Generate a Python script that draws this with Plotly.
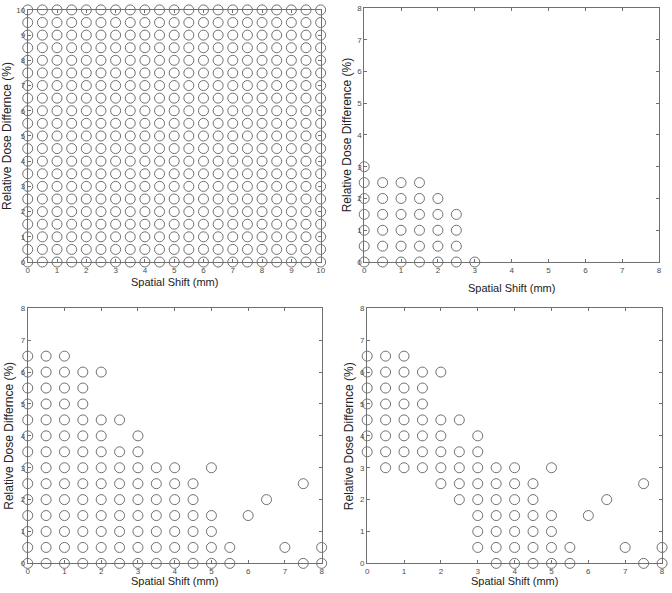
import plotly.graph_objects as go

W, H = 672, 593

# ---- data ----
grid_vals = [i * 0.5 for i in range(21)]  # 0..10 step 0.5
p1_x = [x for y in grid_vals for x in grid_vals]
p1_y = [y for y in grid_vals for x in grid_vals]

# panel 2 rows: dose -> list of shifts
p2_rows = {
    0.0: [0, 0.5, 1, 1.5, 2, 2.5, 3],
    0.5: [0, 0.5, 1, 1.5, 2, 2.5],
    1.0: [0, 0.5, 1, 1.5, 2, 2.5],
    1.5: [0, 0.5, 1, 1.5, 2, 2.5],
    2.0: [0, 0.5, 1, 1.5, 2],
    2.5: [0, 0.5, 1, 1.5],
    3.0: [0],
}
p3_rows = {
    6.5: [0, 0.5, 1],
    6.0: [0, 0.5, 1, 1.5, 2],
    5.5: [0, 0.5, 1, 1.5],
    5.0: [0, 0.5, 1, 1.5],
    4.5: [0, 0.5, 1, 1.5, 2, 2.5],
    4.0: [0, 0.5, 1, 1.5, 2, 3],
    3.5: [0, 0.5, 1, 1.5, 2, 2.5, 3],
    3.0: [0, 0.5, 1, 1.5, 2, 2.5, 3, 3.5, 4, 5],
    2.5: [0, 0.5, 1, 1.5, 2, 2.5, 3, 3.5, 4, 4.5, 7.5],
    2.0: [0, 0.5, 1, 1.5, 2, 2.5, 3, 3.5, 4, 4.5, 6.5],
    1.5: [0, 0.5, 1, 1.5, 2, 2.5, 3, 3.5, 4, 4.5, 5, 6],
    1.0: [0, 0.5, 1, 1.5, 2, 2.5, 3, 3.5, 4, 4.5, 5],
    0.5: [0, 0.5, 1, 1.5, 2, 2.5, 3, 3.5, 4, 4.5, 5, 5.5, 7, 8],
    0.0: [0, 0.5, 1, 1.5, 2, 2.5, 3, 3.5, 4, 4.5, 5, 5.5, 7.5, 8],
}
p4_rows = {
    6.5: [0, 0.5, 1],
    6.0: [0, 0.5, 1, 1.5, 2],
    5.5: [0, 0.5, 1, 1.5],
    5.0: [0, 0.5, 1, 1.5],
    4.5: [0, 0.5, 1, 1.5, 2, 2.5],
    4.0: [0, 0.5, 1, 1.5, 2, 3],
    3.5: [0, 0.5, 1, 1.5, 2, 2.5, 3],
    3.0: [0.5, 1, 1.5, 2, 2.5, 3, 3.5, 4, 5],
    2.5: [2, 2.5, 3, 3.5, 4, 4.5, 7.5],
    2.0: [2.5, 3, 3.5, 4, 4.5, 6.5],
    1.5: [3, 3.5, 4, 4.5, 5, 6],
    1.0: [3, 3.5, 4, 4.5, 5],
    0.5: [3, 3.5, 4, 4.5, 5, 5.5, 7, 8],
    0.0: [3.5, 4, 4.5, 5, 5.5, 7.5, 8],
}

x_title = "Spatial Shift (mm)"
y_titles = ["Relative Dose Differnce (%)", "Relative Dose Difference (%)",
            "Relative Dose Differnce (%)", "Relative Dose Differnce (%)"]
ranges = [10, 8, 8, 8]


def flatten(rows):
    xs, ys = [], []
    for y, xl in rows.items():
        for x in xl:
            xs.append(x)
            ys.append(y)
    return xs, ys


data = [(p1_x, p1_y), flatten(p2_rows), flatten(p3_rows), flatten(p4_rows)]

# pixel boxes: left, right, top, bottom
boxes = [(26, 322, 6, 262), (366, 664, 4, 262), (26, 323, 309, 568), (369, 667, 309, 568)]
xt_off = [20, 26, 18, 18]
yt_off = [21, 17, 19, 18]

GRAY = "#707070"
TICKC = "#4d4d4d"
FONT = "Liberation Sans, Arial, sans-serif"


def px(v):
    return v / W


def py(v):
    return 1 - v / H


fig = go.Figure()
annotations = []
for i, ((xs, ys), (l, r, t, b), rng) in enumerate(zip(data, boxes, ranges)):
    n = "" if i == 0 else str(i + 1)
    fig.add_trace(go.Scatter(
        x=xs, y=ys, mode="markers", xaxis="x" + n, yaxis="y" + n,
        marker=dict(symbol="circle-open", size=10, color=GRAY, line=dict(width=1, color=GRAY)),
        cliponaxis=False, showlegend=False, hoverinfo="skip",
    ))
    ax = dict(
        domain=[px(l), px(r)], range=[0, rng], dtick=1, tick0=0,
        showgrid=False, zeroline=False, showline=True, linecolor=GRAY, linewidth=1,
        mirror="ticks", ticks="inside", ticklen=3, tickcolor=GRAY,
        tickfont=dict(size=8, color=TICKC, family=FONT), anchor="y" + n,
    )
    ay = dict(ax)
    ay["domain"] = [py(b), py(t)]
    ay["anchor"] = "x" + n
    fig.update_layout({("xaxis" + n): ax, ("yaxis" + n): ay})
    annotations.append(dict(
        text=x_title, x=px((l + r) / 2), y=py(b + xt_off[i]),
        xref="paper", yref="paper", showarrow=False, xanchor="center", yanchor="middle",
        font=dict(size=11, color="#222222", family=FONT),
    ))
    annotations.append(dict(
        text=y_titles[i], x=px(l - yt_off[i]), y=py((t + b) / 2),
        xref="paper", yref="paper", showarrow=False, xanchor="center", yanchor="middle",
        textangle=-90, font=dict(size=12, color="#222222", family=FONT),
    ))

fig.update_layout(
    width=W, height=H, margin=dict(l=0, r=0, t=0, b=0),
    paper_bgcolor="white", plot_bgcolor="white",
    annotations=annotations, font=dict(family=FONT),
)
# remove the default 8px page margin so the figure fills the window exactly
fig.write_html("out.html", config={"displayModeBar": False},
               post_script="document.body.style.margin='0px';")
